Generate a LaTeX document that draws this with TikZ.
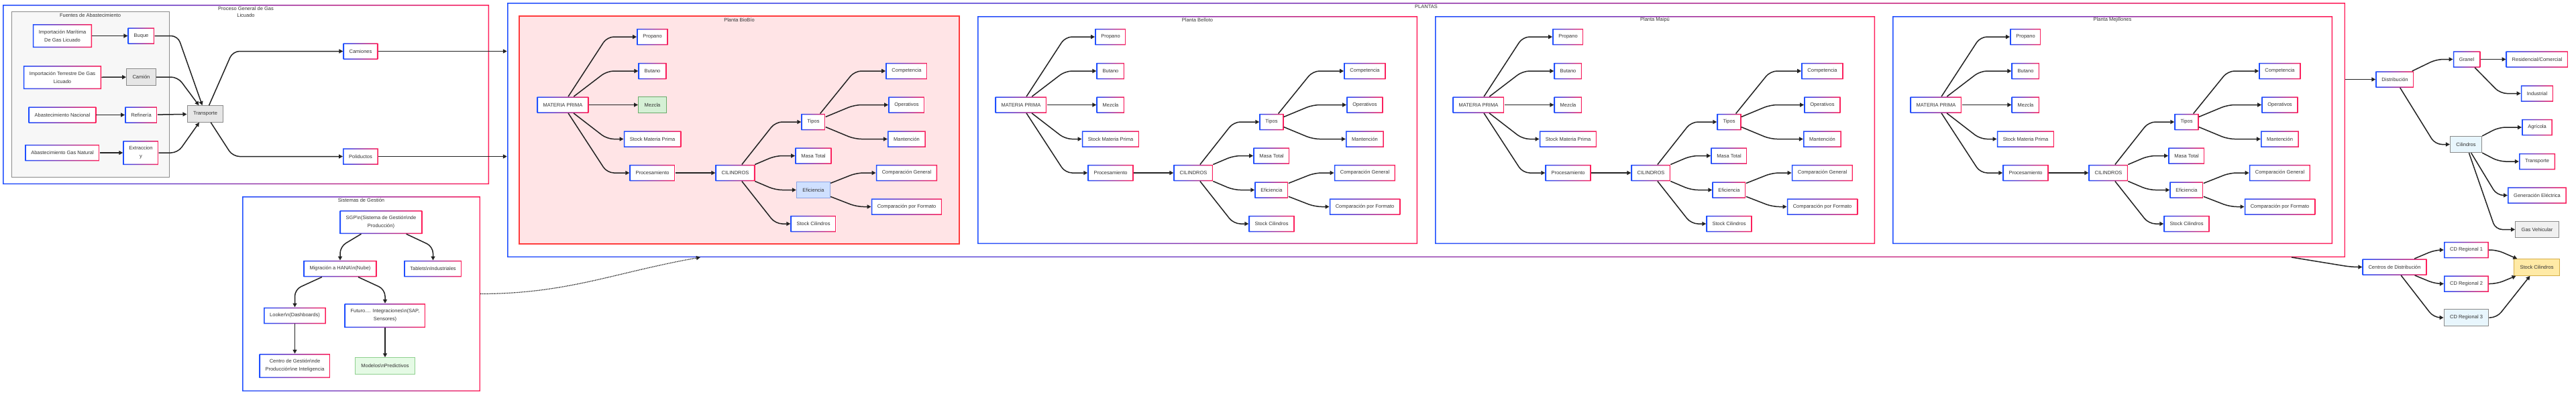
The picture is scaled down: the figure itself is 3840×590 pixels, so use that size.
\documentclass[tikz,border=0pt]{standalone}
\usepackage{fontspec}
\setmainfont{Liberation Sans}
\usetikzlibrary{arrows.meta}

\definecolor{gblue}{HTML}{1F4FFF}
\definecolor{gred}{HTML}{FF1F5A}
\definecolor{txt}{HTML}{333333}
\definecolor{lnk}{HTML}{222222}
\definecolor{biofill}{HTML}{FFE4E6}
\definecolor{bioline}{HTML}{FF3B3B}
\definecolor{greyfill}{HTML}{E6E6E6}
\definecolor{greyline}{HTML}{8A8A8A}
\definecolor{srcfill}{HTML}{F7F7F7}
\definecolor{mezfill}{HTML}{D5F0D5}
\definecolor{mezline}{HTML}{6AAA6A}
\definecolor{effill}{HTML}{CFE0FF}
\definecolor{efline}{HTML}{8AA4E6}
\definecolor{cylfill}{HTML}{E8F6FD}
\definecolor{vehfill}{HTML}{F0F0F0}
\definecolor{stkfill}{HTML}{FFEAA6}
\definecolor{stkline}{HTML}{D6AE45}
\definecolor{modfill}{HTML}{E5FAE5}
\definecolor{modline}{HTML}{8FD08F}

\newcommand{\bsn}{\textbackslash n}

\tikzset{
  gframe/.style={path picture={\shade[left color=gblue, right color=gred, even odd rule]
      (path picture bounding box.south west) rectangle (path picture bounding box.north east)
      ([shift={(1.5pt,1.5pt)}]path picture bounding box.south west) rectangle ([shift={(-1.5pt,-1.5pt)}]path picture bounding box.north east);}},
  nbox/.style={font=\fontsize{7.5}{12}\selectfont, text=txt, align=center, inner xsep=9, inner ysep=0, minimum height=24.5},
  gbox/.style={nbox, fill=white, gframe},
  greybox/.style={nbox, fill=greyfill, draw=greyline, line width=1},
  mezbox/.style={nbox, fill=mezfill, draw=mezline, line width=1.2},
  efbox/.style={nbox, fill=effill, draw=efline, line width=1.2},
  cylbox/.style={nbox, fill=cylfill, draw=greyline, line width=1},
  vehbox/.style={nbox, fill=vehfill, draw=greyline, line width=1},
  stockbox/.style={nbox, fill=stkfill, draw=stkline, line width=1},
  modbox/.style={nbox, fill=modfill, draw=modline, line width=1},
  grp/.style={fill=white, gframe},
  biogrp/.style={fill=biofill, draw=bioline, line width=1.2},
  srcgrp/.style={fill=srcfill, draw=greyline, line width=1},
  grptitle/.style={font=\fontsize{7.5}{10}\selectfont, text=txt, align=center},
  arr/.style={draw=lnk, line width=1.5, rounded corners=10, -{Triangle[length=6,width=6]}},
}

\begin{document}
\begin{tikzpicture}[x=1pt, y=-1pt]
  \useasboundingbox (0,0) rectangle (3840,590);

  % groups
  \node[grp, minimum width=725, minimum height=268] (proceso) at (366.5,141) {};
  \node[grptitle] at (366.5,18) {Proceso General de Gas\\Licuado};
  \node[srcgrp, minimum width=235, minimum height=247] (fuentes) at (134.5,140.5) {};
  \node[grptitle] at (134.5,23) {Fuentes de Abastecimiento};
  \node[grp, minimum width=2740, minimum height=380] (plantas) at (2126,194) {};
  \node[grptitle] at (2126,9.5) {PLANTAS};
  \node[grp, minimum width=355, minimum height=291] (sistemas) at (538.5,438.5) {};
  \node[grptitle] at (538.5,299) {Sistemas de Gestión};

  % fuentes
  \node[gbox, minimum height=35] (impmar) at (93,53.5) {Importación Marítima\\De Gas Licuado};
  \node[gbox] (buque) at (210.5,53.5) {Buque};
  \node[gbox, minimum height=35] (impter) at (93,115.5) {Importación Terrestre De Gas\\Licuado};
  \node[greybox] (camion) at (210.5,115) {Camión};
  \node[gbox] (nacional) at (93,171.5) {Abastecimiento Nacional};
  \node[gbox] (refineria) at (210.5,171.5) {Refinería};
  \node[gbox] (natural) at (93,228) {Abastecimiento Gas Natural};
  \node[gbox, minimum height=36] (extraccion) at (210,228) {Extraccion\\y};
  \node[greybox] (transporte) at (306,170) {Transporte};
  \node[gbox] (camiones) at (537.5,76.5) {Camiones};
  \node[gbox] (poliductos) at (537.5,233.5) {Poliductos};

  \draw[arr] (impmar) -- (buque);
  \draw[arr] (impter) -- (camion);
  \draw[arr] (nacional) -- (refineria);
  \draw[arr] (natural) -- (extraccion);
  \draw[arr] (buque) -- (265,53.5) -- (transporte);
  \draw[arr] (camion) -- (265,115) -- (transporte);
  \draw[arr] (refineria) -- (transporte);
  \draw[arr] (extraccion) -- (265,228) -- (transporte);
  \draw[arr] (transporte) -- (347,76.5) -- (camiones);
  \draw[arr] (transporte) -- (347,233.5) -- (poliductos);
  \draw[arr] (camiones) -- (camiones -| plantas.west);
  \draw[arr] (poliductos) -- (poliductos -| plantas.west);

  % plantas
  \foreach \X/\p/\t/\bg/\mz/\ef in {774/bb/Planta BioBío/biogrp/mezbox/efbox,
      1457/bl/Planta Belloto/grp/gbox/gbox, 2139/ma/Planta Maipú/grp/gbox/gbox,
      2821/mj/Planta Mejillones/grp/gbox/gbox}{
    \node[\bg, minimum width=656, minimum height=340] (\p) at (\X+328,194) {};
    \node[grptitle] at (\X+328,29.5) {\t};
    \node[gbox] (\p-mat) at (\X+65,156.5) {MATERIA PRIMA};
    \node[gbox] (\p-pro) at (\X+198.5,55) {Propano};
    \node[gbox] (\p-but) at (\X+198.5,106) {Butano};
    \node[\mz] (\p-mez) at (\X+198.5,156.5) {Mezcla};
    \node[gbox] (\p-smp) at (\X+198.5,207.5) {Stock Materia Prima};
    \node[gbox] (\p-prc) at (\X+198.5,258) {Procesamiento};
    \node[gbox] (\p-cil) at (\X+322,258) {CILINDROS};
    \node[gbox] (\p-tip) at (\X+438.5,182) {Tipos};
    \node[gbox] (\p-mas) at (\X+438.5,232.5) {Masa Total};
    \node[\ef] (\p-efi) at (\X+438.5,283.5) {Eficiencia};
    \node[gbox] (\p-scl) at (\X+438.5,334) {Stock Cilindros};
    \node[gbox] (\p-com) at (\X+577.5,106) {Competencia};
    \node[gbox] (\p-ope) at (\X+577.5,156.5) {Operativos};
    \node[gbox] (\p-man) at (\X+577.5,207.5) {Mantención};
    \node[gbox] (\p-cge) at (\X+577.5,258) {Comparación General};
    \node[gbox] (\p-cfo) at (\X+577.5,308.5) {Comparación por Formato};

    \foreach \n/\y in {pro/55, but/106, smp/207.5, prc/258}
      \draw[arr] (\p-mat) -- (\X+131,\y) -- (\p-\n);
    \draw[arr] (\p-mat) -- (\p-mez);
    \draw[arr] (\p-prc) -- (\p-cil);
    \foreach \n/\y in {tip/182, mas/232.5, efi/283.5, scl/334}
      \draw[arr] (\p-cil) -- (\X+382,\y) -- (\p-\n);
    \foreach \n/\y in {com/106, ope/156.5, man/207.5}
      \draw[arr] (\p-tip) -- (\X+500,\y) -- (\p-\n);
    \foreach \n/\y in {cge/258, cfo/308.5}
      \draw[arr] (\p-efi) -- (\X+503,\y) -- (\p-\n);
  }

  % distribucion
  \node[gbox] (distrib) at (3570,118.5) {Distribución};
  \node[gbox] (granel) at (3677,88.5) {Granel};
  \node[gbox] (resid) at (3782,88.5) {Residencial/Comercial};
  \node[gbox] (indus) at (3782,139.5) {Industrial};
  \node[cylbox] (cilind) at (3676,215.5) {Cilindros};
  \node[gbox] (agric) at (3782,190) {Agrícola};
  \node[gbox] (transp) at (3782,241) {Transporte};
  \node[gbox] (gener) at (3782,291.5) {Generación Eléctrica};
  \node[vehbox] (vehic) at (3782,342.5) {Gas Vehicular};
  \node[gbox] (centros) at (3569.5,398.5) {Centros de Distribución};
  \node[gbox] (cdr1) at (3676.5,373) {CD Regional 1};
  \node[gbox] (cdr2) at (3676.5,423.5) {CD Regional 2};
  \node[cylbox] (cdr3) at (3676.5,474) {CD Regional 3};
  \node[stockbox] (stock) at (3781.5,399) {Stock Cilindros};

  \coordinate (pout) at (3416,384);
  \draw[arr] (plantas.east |- distrib) -- (distrib);
  \draw[arr] (pout) -- (3505,398.5) -- (centros);
  \draw[arr] (distrib) -- (3632,88.5) -- (granel);
  \draw[arr] (granel) -- (resid);
  \draw[arr] (granel) -- (3727,139.5) -- (indus);
  \draw[arr] (distrib) -- (3630,215.5) -- (cilind);
  \draw[arr] (cilind) -- (3725,190) -- (agric);
  \draw[arr] (cilind) -- (3725,241) -- (transp);
  \draw[arr] (cilind) -- (3722,291.5) -- (gener);
  \draw[arr] (cilind) -- (3720,342.5) -- (vehic);
  \draw[arr] (centros) -- (3630,373) -- (cdr1);
  \draw[arr] (centros) -- (3630,423.5) -- (cdr2);
  \draw[arr] (centros) -- (3628,474) -- (cdr3);
  \draw[arr] (cdr1) -- (3722,373) -- (stock);
  \draw[arr] (cdr2) -- (3722,423.5) -- (stock);
  \draw[arr] (cdr3) -- (3722,474) -- (stock);

  % sistemas
  \node[gbox, minimum height=35] (sgp) at (568,331.5) {SGP\bsn(Sistema de Gestión\bsn de\\Producción)};
  \node[gbox] (hana) at (507,401) {Migración a HANA\bsn(Nube)};
  \node[gbox] (tablets) at (645.5,401) {Tablets\bsn Industriales};
  \node[gbox] (looker) at (439.5,471) {Looker\bsn(Dashboards)};
  \node[gbox, minimum height=36] (futuro) at (574,471) {Futuro.... Integraciones\bsn(SAP,\\Sensores)};
  \node[gbox, minimum height=36] (centro) at (439.5,546) {Centro de Gestión\bsn de\\Producción\bsn e Inteligencia};
  \node[modbox] (modelos) at (574,546) {Modelos\bsn Predictivos};

  \draw[arr] (sgp) -- (507,368) -- (hana);
  \draw[arr] (sgp) -- (645.5,368) -- (tablets);
  \draw[arr] (hana) -- (439.5,432) -- (looker);
  \draw[arr] (hana) -- (574,432) -- (futuro);
  \draw[arr] (looker) -- (centro);
  \draw[arr] (futuro) -- (modelos);
  \coordinate (pin) at (1044,384);
  \draw[arr, densely dotted, line width=1.2] (sistemas) to[out=0, in=190] (pin);
\end{tikzpicture}
\end{document}
